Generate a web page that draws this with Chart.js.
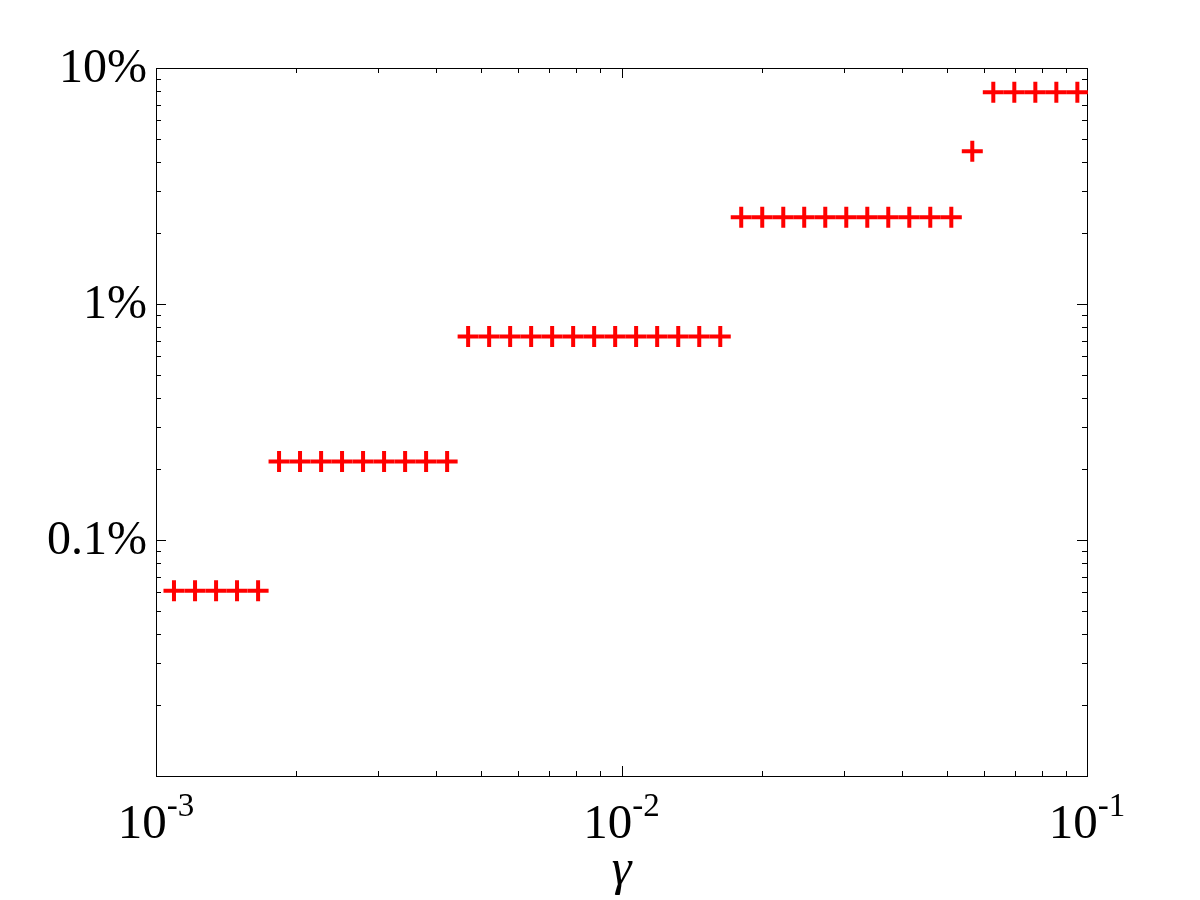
<!DOCTYPE html>
<html>
<head>
<meta charset="utf-8">
<script src="https://cdn.jsdelivr.net/npm/chart.js@4/dist/chart.umd.min.js"></script>
<style>
  html, body { margin: 0; padding: 0; background: #fff; }
  #wrap { width: 1200px; height: 900px; }
</style>
</head>
<body>
<div id="wrap"><canvas id="chart" width="1200" height="900"></canvas></div>
<script>
// gamma values (x)
const gamma = [0.001093, 0.001213, 0.001346, 0.001493, 0.001657,
  0.001838, 0.002039, 0.002263, 0.002510, 0.002785, 0.003090, 0.003429, 0.003804, 0.004221,
  0.004683, 0.005196, 0.005765, 0.006396, 0.007096, 0.007873, 0.008735, 0.009692, 0.01075,
  0.01193, 0.01324, 0.01469, 0.01630,
  0.01808, 0.02006, 0.02226, 0.02469, 0.02740, 0.03040, 0.03373, 0.03742, 0.04152, 0.04606, 0.05111,
  0.05670,
  0.06291, 0.06980, 0.07745, 0.08593, 0.09534];
// rate in percent
const rate = [0.0609, 0.0609, 0.0609, 0.0609, 0.0609,
  0.215, 0.215, 0.215, 0.215, 0.215, 0.215, 0.215, 0.215, 0.215,
  0.729, 0.729, 0.729, 0.729, 0.729, 0.729, 0.729, 0.729, 0.729,
  0.729, 0.729, 0.729, 0.729,
  2.33, 2.33, 2.33, 2.33, 2.33, 2.33, 2.33, 2.33, 2.33, 2.33, 2.33,
  4.44,
  7.90, 7.90, 7.90, 7.90, 7.90];

const xTickLabels = [[0.001, '10', '-3'], [0.01, '10', '-2'], [0.1, '10', '-1']];
const yTickLabels = [[0.1, '0.1%'], [1, '1%'], [10, '10%']];
const xTitle = 'γ';

const FONT = '"Liberation Serif", "DejaVu Serif", serif';

function decadeTicks(scale) {
  const out = [];
  let e = Math.floor(Math.log10(scale.min) + 1e-9);
  while (Math.pow(10, e) <= scale.max * 1.0001) {
    for (let m = 1; m <= 9; m++) {
      const v = m * Math.pow(10, e);
      if (v >= scale.min * 0.9999 && v <= scale.max * 1.0001) out.push([v, m === 1]);
    }
    e++;
  }
  return out;
}

const framePlugin = {
  id: 'frame',
  beforeDatasetsDraw(chart) {
    const ctx = chart.ctx;
    const a = chart.chartArea;
    const xs = chart.scales.x, ys = chart.scales.y;
    ctx.save();
    ctx.strokeStyle = '#000';
    ctx.lineWidth = 1;
    ctx.strokeRect(Math.round(a.left) + 0.5, Math.round(a.top) + 0.5,
      Math.round(a.right - a.left), Math.round(a.bottom - a.top));
    ctx.beginPath();
    decadeTicks(xs).forEach(([v, major]) => {
      const px = Math.round(xs.getPixelForValue(v)) + 0.5;
      const len = major ? 10 : 5;
      ctx.moveTo(px, a.bottom); ctx.lineTo(px, a.bottom - len);
      ctx.moveTo(px, a.top); ctx.lineTo(px, a.top + len);
    });
    decadeTicks(ys).forEach(([v, major]) => {
      const py = Math.round(ys.getPixelForValue(v)) + 0.5;
      const len = major ? 10 : 5;
      ctx.moveTo(a.left, py); ctx.lineTo(a.left + len, py);
      ctx.moveTo(a.right, py); ctx.lineTo(a.right - len, py);
    });
    ctx.stroke();
    ctx.restore();
  },
  afterDraw(chart) {
    const ctx = chart.ctx;
    const a = chart.chartArea;
    const xs = chart.scales.x, ys = chart.scales.y;
    ctx.save();
    ctx.fillStyle = '#000';
    // y labels
    ctx.font = '48px ' + FONT;
    ctx.textAlign = 'right';
    ctx.textBaseline = 'middle';
    yTickLabels.forEach(([v, t]) => {
      ctx.fillText(t, a.left - 9, ys.getPixelForValue(v) + 1);
    });
    // x labels with exponent
    ctx.textBaseline = 'alphabetic';
    ctx.textAlign = 'left';
    xTickLabels.forEach(([v, base, exp]) => {
      ctx.font = '49px ' + FONT;
      const wb = ctx.measureText(base).width;
      ctx.font = '33px ' + FONT;
      const we = ctx.measureText(exp).width;
      const x0 = xs.getPixelForValue(v) - (wb + we) / 2;
      ctx.font = '49px ' + FONT;
      ctx.fillText(base, x0, a.bottom + 62);
      ctx.font = '33px ' + FONT;
      ctx.fillText(exp, x0 + wb, a.bottom + 40);
    });
    // x title
    ctx.font = 'italic 50px ' + FONT;
    ctx.textAlign = 'center';
    ctx.fillText(xTitle, (a.left + a.right) / 2, 884);
    ctx.restore();
  }
};

const ctx = document.getElementById('chart').getContext('2d');
const chart = new Chart(ctx, {
  type: 'scatter',
  data: {
    datasets: [{
      data: gamma.map((g, i) => ({ x: g, y: rate[i] })),
      pointStyle: 'cross',
      pointRadius: 10.5,
      pointHoverRadius: 10.5,
      pointBorderWidth: 4,
      pointHoverBorderWidth: 4,
      borderColor: '#ff0000',
      backgroundColor: '#ff0000',
      showLine: false,
      clip: false
    }]
  },
  options: {
    responsive: false,
    animation: false,
    events: [],
    layout: { padding: { left: 156, right: 113, top: 68, bottom: 124 } },
    plugins: { legend: { display: false }, tooltip: { enabled: false } },
    scales: {
      x: { type: 'logarithmic', min: 0.001, max: 0.1, display: false },
      y: { type: 'logarithmic', min: 0.01, max: 10, display: false }
    }
  },
  plugins: [framePlugin]
});
</script>
</body>
</html>
